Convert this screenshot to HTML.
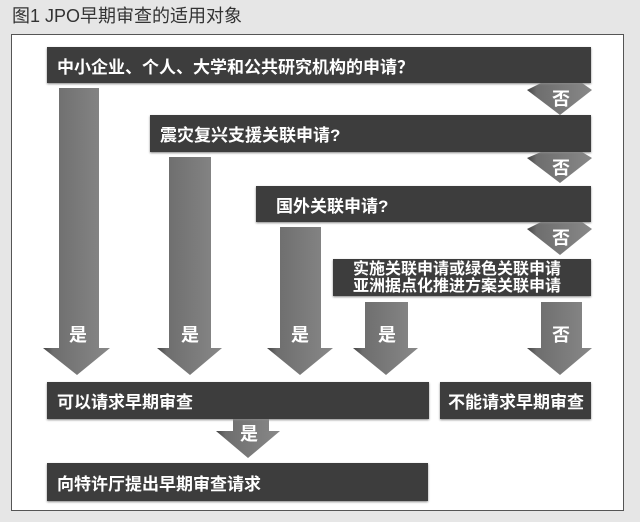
<!DOCTYPE html>
<html><head><meta charset="utf-8"><style>
body{margin:0;width:640px;height:522px;background:#e6e6e6;position:relative;overflow:hidden;font-family:"Liberation Sans","Noto Sans CJK SC",sans-serif}
.t{position:absolute;left:12px;top:2px;font-size:18px;color:#333}
.box{position:absolute;left:11px;top:34px;width:613px;height:477px;background:#fff;border:1px solid #555;box-sizing:border-box}
.bar{position:absolute;background:#3d3d3d;color:#fff;font-weight:bold;font-size:17px;box-shadow:0 1px 2px #888;display:flex;align-items:center;padding-left:10px;box-sizing:border-box}
svg{position:absolute;left:0;top:0}
</style></head><body>
<div class="t">图1 JPO早期审查的适用对象</div>
<div class="box"></div>
<svg width="640" height="522">
<defs><linearGradient id="g" x1="0" x2="1"><stop offset="0" stop-color="#444"/><stop offset="0.15" stop-color="#6e6e6e"/><stop offset="1" stop-color="#888"/></linearGradient></defs>
<g fill="url(#g)">
<polygon points="59,88 99,88 99,348 110,348 77,375 43,348 59,348"/>
<polygon points="169,157 211,157 211,348 222,348 190,375 157,348 169,348"/>
<polygon points="280,227 321,227 321,348 333,348 300,375 267,348 280,348"/>
<polygon points="365,302 408,302 408,348 418,348 386,375 353,348 365,348"/>
<polygon points="541,302 582,302 582,348 592,348 560,375 527,348 541,348"/>
<polygon points="233,419 269,419 269,431 280,431 248,458 216,431 233,431"/>
<polygon points="541,83 582,83 592,90 560,115 527,90"/>
<polygon points="541,152 582,152 592,158 560,183 527,158"/>
<polygon points="541,222 582,222 592,229 560,255 527,229"/>
</g>
<g fill="#fff" font-weight="bold" font-size="18" text-anchor="middle" font-family="Liberation Sans,Noto Sans CJK SC,sans-serif">
<text x="78" y="341">是</text><text x="190" y="341">是</text><text x="300" y="341">是</text><text x="387" y="341">是</text><text x="561" y="341">否</text>
<text x="249" y="440">是</text>
<text x="561" y="105">否</text><text x="561" y="174">否</text><text x="561" y="244">否</text>
</g>
</svg>
<div class="bar" style="left:47px;top:47px;width:544px;height:36px">中小企业、个人、大学和公共研究机构的申请？</div>
<div class="bar" style="left:150px;top:115px;width:441px;height:37px">震灾复兴支援关联申请?</div>
<div class="bar" style="left:256px;top:186px;width:335px;height:36px;padding-left:20px">国外关联申请?</div>
<div class="bar" style="left:333px;top:259px;width:258px;height:37px;font-size:16px;line-height:17px;padding-left:20px">实施关联申请或绿色关联申请<br>亚洲据点化推进方案关联申请</div>
<div class="bar" style="left:47px;top:382px;width:382px;height:37px">可以请求早期审查</div>
<div class="bar" style="left:440px;top:382px;width:151px;height:37px;padding-left:8px">不能请求早期审查</div>
<div class="bar" style="left:47px;top:463px;width:381px;height:38px">向特许厅提出早期审查请求</div>
</body></html>
